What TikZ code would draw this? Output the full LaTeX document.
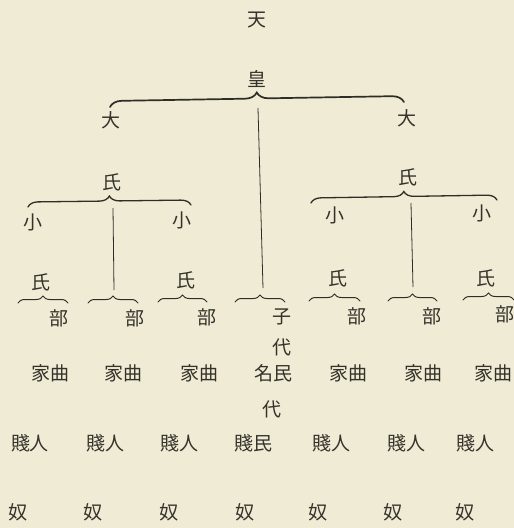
\documentclass[tikz,border=0pt]{standalone}
\usepackage{fontspec}
\newfontfamily\cjk{Noto Sans CJK JP}
\usetikzlibrary{decorations.pathreplacing}
\definecolor{pageFill}{HTML}{EFEBD4}
\definecolor{inkText}{HTML}{34322B}
\definecolor{inkLine}{HTML}{2F2D27}

\begin{document}
\begin{tikzpicture}[
  x=1pt, y=-1pt,
  font=\cjk\fontsize{19}{19}\selectfont,
  kanji/.style   ={text=inkText, inner sep=1pt},
  brc/.style     ={draw=inkLine, line cap=round, decorate},
  bigbrace/.style={brc, line width=1.7pt, decoration={brace, amplitude=12pt}},
  midbrace/.style={brc, line width=1.3pt, decoration={brace, amplitude=10pt}},
  lowbrace/.style={brc, line width=1pt, decoration={brace, amplitude=7pt}},
  stem/.style    ={draw=inkLine, line width=0.8pt},
]
\fill[pageFill] (0,0) rectangle (514,528);
\useasboundingbox (0,0) rectangle (514,528);
% ----- top -----
\node[kanji] (ten) at (257,20) {天};
\node[kanji] (kou) at (257,79) {皇};
\node[kanji] (oL)  at (111,120) {大};
\node[kanji] (oR)  at (407,118) {大};
\coordinate (bigL) at (110,107);
\coordinate (bigR) at (404,102);
\draw[bigbrace] (bigL) -- (bigR);
% ----- second level -----
\node[kanji] (uL) at (112,182) {氏};
\node[kanji] (uR) at (408,177) {氏};
\coordinate (midLL) at (28,207);
\coordinate (midLR) at (191,205);
\coordinate (midRL) at (311,203);
\coordinate (midRR) at (497,200);
\draw[midbrace] (midLL) -- (midLR);
\draw[midbrace] (midRL) -- (midRR);
\node[kanji] (ko1) at (33,222)  {小};
\node[kanji] (ko2) at (182,220) {小};
\node[kanji] (ko3) at (335,215) {小};
\node[kanji] (ko4) at (482,213) {小};
% ----- third level -----
\node[kanji] (s1) at (41,282)  {氏};
\node[kanji] (s2) at (186,280) {氏};
\node[kanji] (s3) at (338,278) {氏};
\node[kanji] (s4) at (486,278) {氏};
\coordinate (p1l) at (18,303);  \coordinate (p1r) at (68,303);
\coordinate (p2l) at (88,303);  \coordinate (p2r) at (138,303);
\coordinate (p3l) at (158,302); \coordinate (p3r) at (207,302);
\coordinate (p4l) at (235,302); \coordinate (p4r) at (285,302);
\coordinate (p5l) at (309,301); \coordinate (p5r) at (360,301);
\coordinate (p6l) at (388,301); \coordinate (p6r) at (437,301);
\coordinate (p7l) at (463,300); \coordinate (p7r) at (514,300);
\draw[lowbrace] (p1l) -- (p1r);
\draw[lowbrace] (p2l) -- (p2r);
\draw[lowbrace] (p3l) -- (p3r);
\draw[lowbrace] (p4l) -- (p4r);
\draw[lowbrace] (p5l) -- (p5r);
\draw[lowbrace] (p6l) -- (p6r);
\draw[lowbrace] (p7l) -- (p7r);
% ----- stems -----
\coordinate (topC) at (258,108); \coordinate (endC) at (263,288);
\coordinate (topL) at (113,208); \coordinate (endL) at (114,290);
\coordinate (topR) at (411,203); \coordinate (endR) at (413,287);
\draw[stem] (topC) -- (endC);
\draw[stem] (topL) -- (endL);
\draw[stem] (topR) -- (endR);
% ----- bottom rows -----
\node[kanji] (sub1) at (59,318)  {部};
\node[kanji] (sub2) at (135,318) {部};
\node[kanji] (sub3) at (207,317) {部};
\node[kanji] (sub4) at (282,317) {子};
\node[kanji] (sub5) at (357,316) {部};
\node[kanji] (sub6) at (432,316) {部};
\node[kanji] (sub7) at (505,314) {部};
\node[kanji] (dai1) at (282,347) {代};
\node[kanji] (ka1) at (50,373)  {家曲};
\node[kanji] (ka2) at (123,373) {家曲};
\node[kanji] (ka3) at (199,373) {家曲};
\node[kanji] (ka4) at (273,373) {名民};
\node[kanji] (ka5) at (348,373) {家曲};
\node[kanji] (ka6) at (423,373) {家曲};
\node[kanji] (ka7) at (493,373) {家曲};
\node[kanji] (dai2) at (272,409) {代};
\node[kanji] (se1) at (30,443)  {賤人};
\node[kanji] (se2) at (105,443) {賤人};
\node[kanji] (se3) at (179,443) {賤人};
\node[kanji] (se4) at (253,443) {賤民};
\node[kanji] (se5) at (331,443) {賤人};
\node[kanji] (se6) at (406,443) {賤人};
\node[kanji] (se7) at (475,443) {賤人};
\node[kanji] (nu1) at (18,512)  {奴};
\node[kanji] (nu2) at (93,512)  {奴};
\node[kanji] (nu3) at (169,512) {奴};
\node[kanji] (nu4) at (245,512) {奴};
\node[kanji] (nu5) at (318,512) {奴};
\node[kanji] (nu6) at (393,512) {奴};
\node[kanji] (nu7) at (465,512) {奴};
\end{tikzpicture}
\end{document}
